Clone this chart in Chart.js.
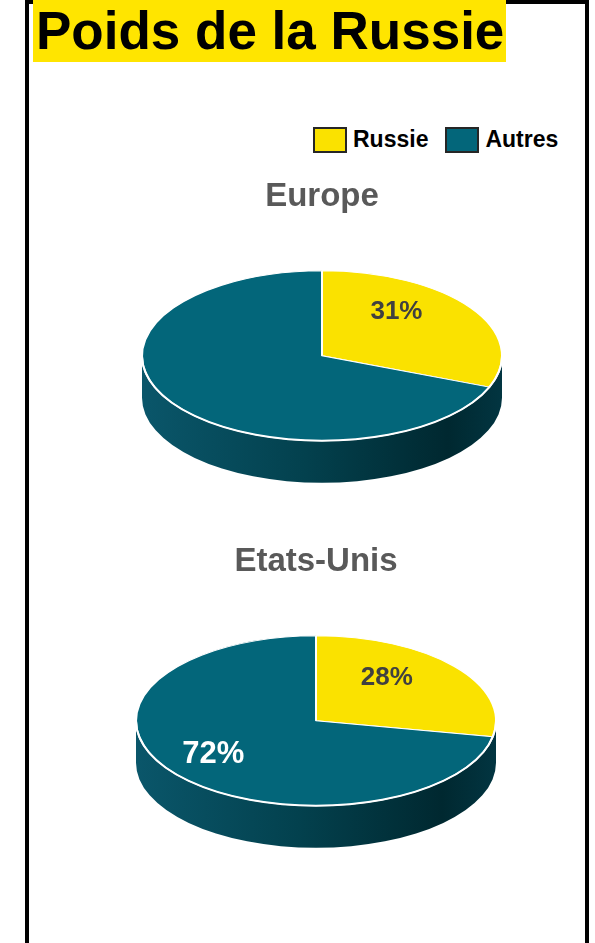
<!DOCTYPE html>
<html lang="fr">
<head>
<meta charset="utf-8">
<title>Poids de la Russie</title>
<script src="https://cdn.jsdelivr.net/npm/chart.js@4/dist/chart.umd.min.js"></script>
<style>
  html, body { margin: 0; padding: 0; background: #fff; }
  body { width: 595px; height: 943px; position: relative; overflow: hidden;
         font-family: "Liberation Sans", Arial, sans-serif; }
  .frame { position: absolute; left: 25px; top: 0; width: 564px; height: 1000px;
           box-sizing: border-box; border: 4px solid #000; border-bottom: none; }
  .main-title { position: absolute; left: 33px; top: 0; width: 473px; height: 62px;
                background: #ffe500; font-weight: bold; font-size: 53px; line-height: 62px;
                padding-left: 3px; box-sizing: border-box; color: #000; white-space: nowrap; }
  .legend { position: absolute; left: 313px; top: 126px; display: flex; align-items: center; }
  .legend-item { display: flex; align-items: center; margin-right: 17px; }
  .legend-box { width: 34px; height: 26px; box-sizing: border-box; border: 2px solid #262626; }
  .legend-item span { font-weight: bold; font-size: 23px; color: #000; margin-left: 6px; }
  canvas { position: absolute; }
</style>
</head>
<body>
<div class="frame"></div>
<div class="main-title">Poids de la Russie</div>
<div class="legend" id="chartLegend"></div>
<canvas id="pieEurope" width="540" height="318" style="left:52px; top:177px;"></canvas>
<canvas id="pieUS" width="540" height="318" style="left:46px; top:542px;"></canvas>

<script>
// ── Data ────────────────────────────────────────────────────────────────────
const categories = ["Russie", "Autres"];
const colors = ["#fae200", "#03667a"];
const europeShares = [31, 69];
const usShares = [28, 72];

// ── Pseudo-3D pie: squash the library's arcs and add a side wall ───────────
const pie3d = {
  id: "pie3d",
  beforeDatasetsDraw(chart, args, opts) {
    const arcs = chart.getDatasetMeta(0).data;
    const { x: cx, y: cy, outerRadius: r } = arcs[0];
    const ry = r * opts.tilt;
    const ctx = chart.ctx;

    // side wall (front half only)
    const g = ctx.createLinearGradient(cx - r, 0, cx + r, 0);
    opts.wall.forEach(([o, c]) => g.addColorStop(o, c));
    ctx.save();
    ctx.fillStyle = g;
    ctx.beginPath();
    ctx.ellipse(cx, cy + opts.depth, r, ry, 0, 0, Math.PI);
    ctx.lineTo(cx - r, cy);
    ctx.ellipse(cx, cy, r, ry, 0, Math.PI, 0, true);
    ctx.closePath();
    ctx.fill();
    ctx.restore();

    // top face: flatten vertically around the centre
    ctx.save();
    ctx.translate(cx, cy);
    ctx.scale(1, opts.tilt);
    ctx.translate(-cx, -cy);
  },
  afterDatasetsDraw(chart, args, opts) {
    const ctx = chart.ctx;
    ctx.restore();

    const arcs = chart.getDatasetMeta(0).data;
    const { x: cx, y: cy, outerRadius: r } = arcs[0];
    const ry = r * opts.tilt;

    // white rim on the front edge
    ctx.save();
    ctx.strokeStyle = "#fff";
    ctx.lineWidth = 2;
    ctx.beginPath();
    ctx.ellipse(cx, cy, r, ry, 0, 0, Math.PI);
    ctx.stroke();

    // percentage labels
    const data = chart.data.datasets[0].data;
    const total = data.reduce((a, b) => a + b, 0);
    ctx.textAlign = "center";
    ctx.textBaseline = "middle";
    arcs.forEach((arc, i) => {
      const l = opts.labels[i];
      if (!l || !l.show) return;
      const mid = (arc.startAngle + arc.endAngle) / 2;
      const x = cx + l.f * r * Math.cos(mid);
      const y = cy + l.f * ry * Math.sin(mid) + l.dy;
      ctx.font = `bold ${l.size}px "Liberation Sans", Arial, sans-serif`;
      ctx.fillStyle = l.color;
      ctx.fillText(Math.round((data[i] / total) * 100) + "%", x, y);
    });
    ctx.restore();
  },
};

Chart.defaults.font.family = '"Liberation Sans", Arial, sans-serif';

function makePie(id, title, shares, labels) {
  return new Chart(document.getElementById(id), {
    type: "pie",
    data: {
      labels: categories,
      datasets: [
        {
          data: shares,
          backgroundColor: colors,
          borderColor: "#ffffff",
          borderWidth: 2,
          radius: 180,
          clip: false,
        },
      ],
    },
    options: {
      responsive: false,
      animation: false,
      events: [],
      layout: { padding: 0 },
      plugins: {
        legend: { display: false },
        tooltip: { enabled: false },
        title: {
          display: true,
          text: title,
          color: "#595959",
          font: { size: 33, weight: "bold" },
          padding: 0,
        },
        pie3d: {
          tilt: 85 / 180,
          depth: 42,
          wall: [
            [0, "#0a566a"],
            [0.45, "#03414e"],
            [0.85, "#002830"],
            [1, "#023541"],
          ],
          labels,
        },
      },
    },
    plugins: [pie3d],
  });
}

makePie("pieEurope", "Europe", europeShares, [
  { show: true, color: "#404040", size: 26, f: 0.5, dy: -20 },
  { show: false },
]);

makePie("pieUS", "Etats-Unis", usShares, [
  { show: true, color: "#404040", size: 26, f: 0.51, dy: -15 },
  { show: true, color: "#ffffff", size: 31, f: 0.74, dy: -6 },
]);

// ── Legend ──────────────────────────────────────────────────────────────────
const legendEl = document.getElementById("chartLegend");
categories.forEach((c, i) => {
  const item = document.createElement("div");
  item.className = "legend-item";
  item.innerHTML = `
    <div class="legend-box" style="background:${colors[i]}"></div>
    <span>${c}</span>
  `;
  legendEl.appendChild(item);
});
</script>
</body>
</html>
